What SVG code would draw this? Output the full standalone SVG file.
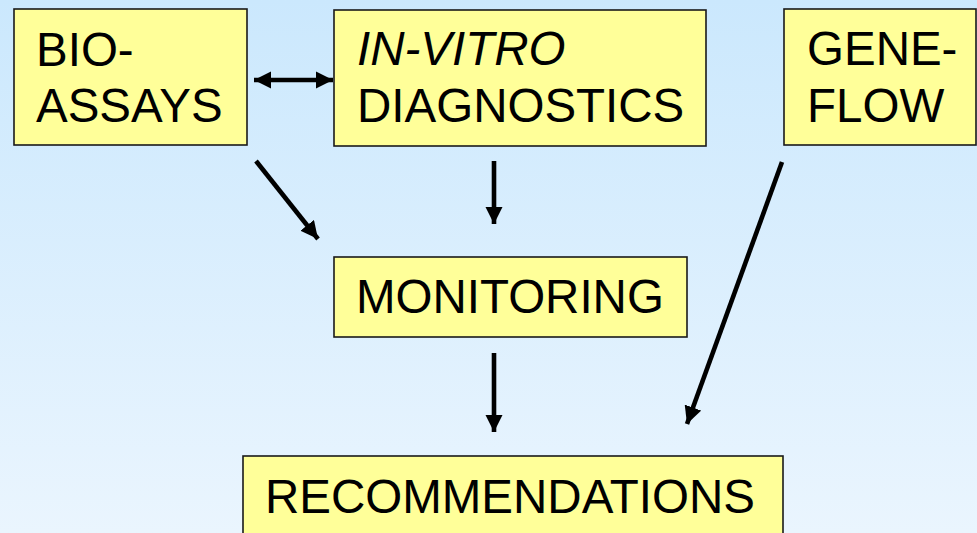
<svg xmlns="http://www.w3.org/2000/svg" width="977" height="533" viewBox="0 0 977 533">
<defs>
<linearGradient id="bg" x1="0" y1="0" x2="0" y2="1">
<stop offset="0" stop-color="#cbe8fd"/>
<stop offset="1" stop-color="#eaf5fe"/>
</linearGradient>
<marker id="ah" viewBox="0 0 10 10" refX="10" refY="5" markerWidth="3.8" markerHeight="3.8" orient="auto-start-reverse" markerUnits="strokeWidth">
<path d="M0,0 L10,5 L0,10 Z" fill="#000"/>
</marker>
<style>
.box{fill:#ffff99;stroke:#1a1a1a;stroke-width:1.6}
.t{font-family:"Liberation Sans",Arial,sans-serif;font-size:47.5px;fill:#000}
.i{font-style:italic}
.c{stroke:#000;stroke-width:4.6;fill:none;marker-end:url(#ah)}
</style>
</defs>
<rect width="977" height="533" fill="url(#bg)"/>
<g id="bioassays">
<rect class="box" x="14" y="9" width="233" height="136"/>
<text class="t" x="36" y="66">BIO-</text>
<text class="t" x="36" y="122">ASSAYS</text>
</g>
<g id="invitro">
<rect class="box" x="334" y="10" width="372" height="136"/>
<text class="t i" x="357" y="65">IN-VITRO</text>
<text class="t" x="357" y="122">DIAGNOSTICS</text>
</g>
<g id="geneflow">
<rect class="box" x="784" y="9" width="192" height="136"/>
<text class="t" x="807" y="65">GENE-</text>
<text class="t" x="807" y="122">FLOW</text>
</g>
<g id="monitoring">
<rect class="box" x="334" y="257" width="353" height="80"/>
<text class="t" x="356" y="313">MONITORING</text>
</g>
<g id="recommendations">
<rect class="box" x="243" y="456" width="540" height="90"/>
<text class="t" x="265" y="513">RECOMMENDATIONS</text>
</g>
<g id="connectors">
<line class="c" x1="254" y1="80" x2="333" y2="80" style="marker-start:url(#ah)"/>
<line class="c" x1="256" y1="161" x2="318" y2="239"/>
<line class="c" x1="494" y1="161" x2="494" y2="224"/>
<line class="c" x1="494" y1="353" x2="494" y2="432"/>
<line class="c" x1="782" y1="162" x2="687" y2="424"/>
</g>
</svg>
